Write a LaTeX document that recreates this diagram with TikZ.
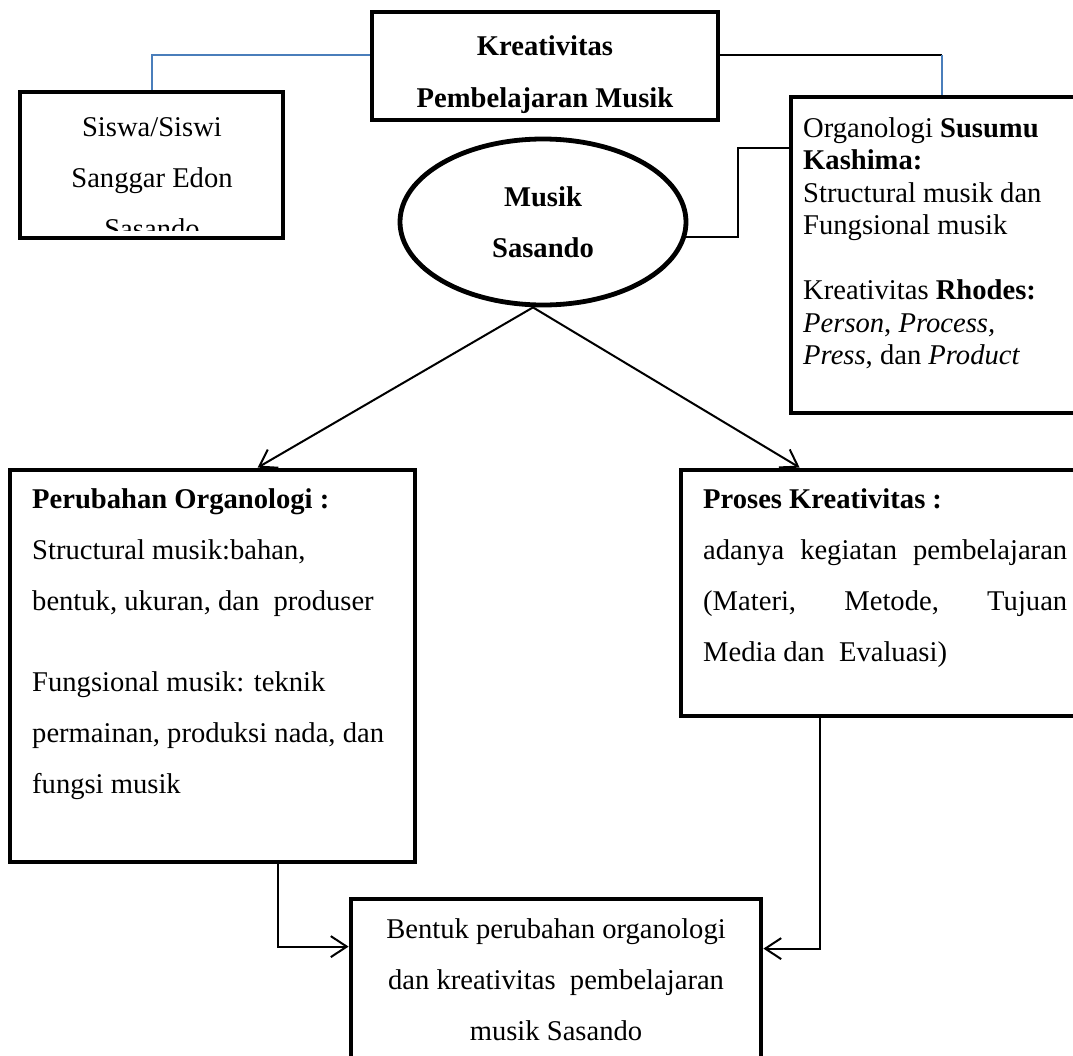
\documentclass[tikz,border=0pt]{standalone}
\usepackage{fontspec}
\setmainfont{Liberation Serif}
\usetikzlibrary{arrows.meta, positioning, shapes.geometric, calc}
\definecolor{sasblue}{RGB}{74,126,187}

\begin{document}
\begin{tikzpicture}[x=1pt, y=-1pt,
    box/.style={draw, line width=4.8pt, rectangle, inner sep=0pt},
    txt/.style={inner sep=0pt, font=\fontsize{28.6}{51}\selectfont},
    link/.style={line width=2pt},
    arr/.style={link, -{Straight Barb[length=16pt, width=21pt]}}]
    \useasboundingbox (0,0) rectangle (1073,1055);
    \clip (0,0) rectangle (1073,1055);
    % boxes
    \node[box, minimum width=346pt, minimum height=108pt] (top) at (545,66) {};
    \node[box, minimum width=263pt, minimum height=146pt] (siswa) at (151.5,165) {};
    \node[box, minimum width=302pt, minimum height=316pt] (orga) at (942,255) {};
    \node[draw, ellipse, line width=4.8pt, inner sep=0pt, minimum width=286pt,
      minimum height=166pt, txt, font=\fontsize{28.6}{51}\selectfont\bfseries,
      align=center] (musik) at (543,222) {Musik\\Sasando};
    \node[box, minimum width=405pt, minimum height=392pt] (perub) at (212.5,666) {};
    \node[box, minimum width=412pt, minimum height=246pt] (proses) at (887,593) {};
    \node[box, minimum width=410pt, minimum height=181pt] (hasil) at (556,989.5) {};
    % texts (anchored on the last line)
    \node[txt, font=\fontsize{28.6}{52}\selectfont\bfseries, align=center, anchor=base]
      (toptxt) at (545,107) {Kreativitas\\Pembelajaran Musik};
    \begin{scope}
      \clip (0,0) rectangle (1073,230);
      \node[txt, align=center, anchor=base] (siswatxt) at (152,238)
        {Siswa/Siswi\\Sanggar Edon\\Sasando};
    \end{scope}
    \node[txt, font=\fontsize{28.6}{32.5}\selectfont, align=left, anchor=base west]
      (orgatxt) at (803,364.5) {Organologi \textbf{Susumu}\\\textbf{Kashima:}\\
      Structural musik dan\\Fungsional musik\\[32.5pt]
      Kreativitas \textbf{Rhodes:}\\\textit{Person}, \textit{Process,}\\
      \textit{Press}, dan \textit{Product}};
    \node[txt, align=left, anchor=base west] (perubtxt) at (32,793)
      {\textbf{Perubahan Organologi :}\\Structural musik:bahan,\\
      bentuk, ukuran, dan\ \ produser\\[30pt]Fungsional musik: teknik\\
      permainan, produksi nada, dan\\fungsi musik};
    \node[txt, align=left, anchor=base west] (prosestxt) at (703,661)
      {\textbf{Proses Kreativitas :}\\
      \makebox[364pt][s]{adanya kegiatan pembelajaran}\\
      \makebox[364pt][s]{(Materi, Metode, Tujuan}\\
      Media dan\ \ Evaluasi)};
    \node[txt, align=center, anchor=base] (hasiltxt) at (556,1040)
      {Bentuk perubahan organologi\\dan kreativitas\ \ pembelajaran\\musik Sasando};
    % connectors
    \draw[link, sasblue] ([yshift=11pt]top.west) -| (siswa.north);
    \draw[link] ([yshift=11pt]top.east) -- ([yshift=11pt]top.east -| orga.north)
      coordinate (rbend);
    \draw[link, sasblue] (rbend) -- (orga.north);
    \draw[link] (musik.-6) -| ($(orga.north west)+(-51,53)$)
      -- ($(orga.north west)+(0,53)$);
    \draw[arr] ([xshift=-10pt]musik.south) -- ($(perub.north west)+(250,0)$);
    \draw[arr] ([xshift=-10pt]musik.south) -- ($(proses.north west)+(121,0)$);
    \draw[arr] ($(perub.south west)+(270,0)$) |- ($(hasil.north west)+(0,50)$);
    \draw[arr] ($(proses.south west)+(141,0)$) |- ($(hasil.north east)+(0,52)$);
\end{tikzpicture}
\end{document}
